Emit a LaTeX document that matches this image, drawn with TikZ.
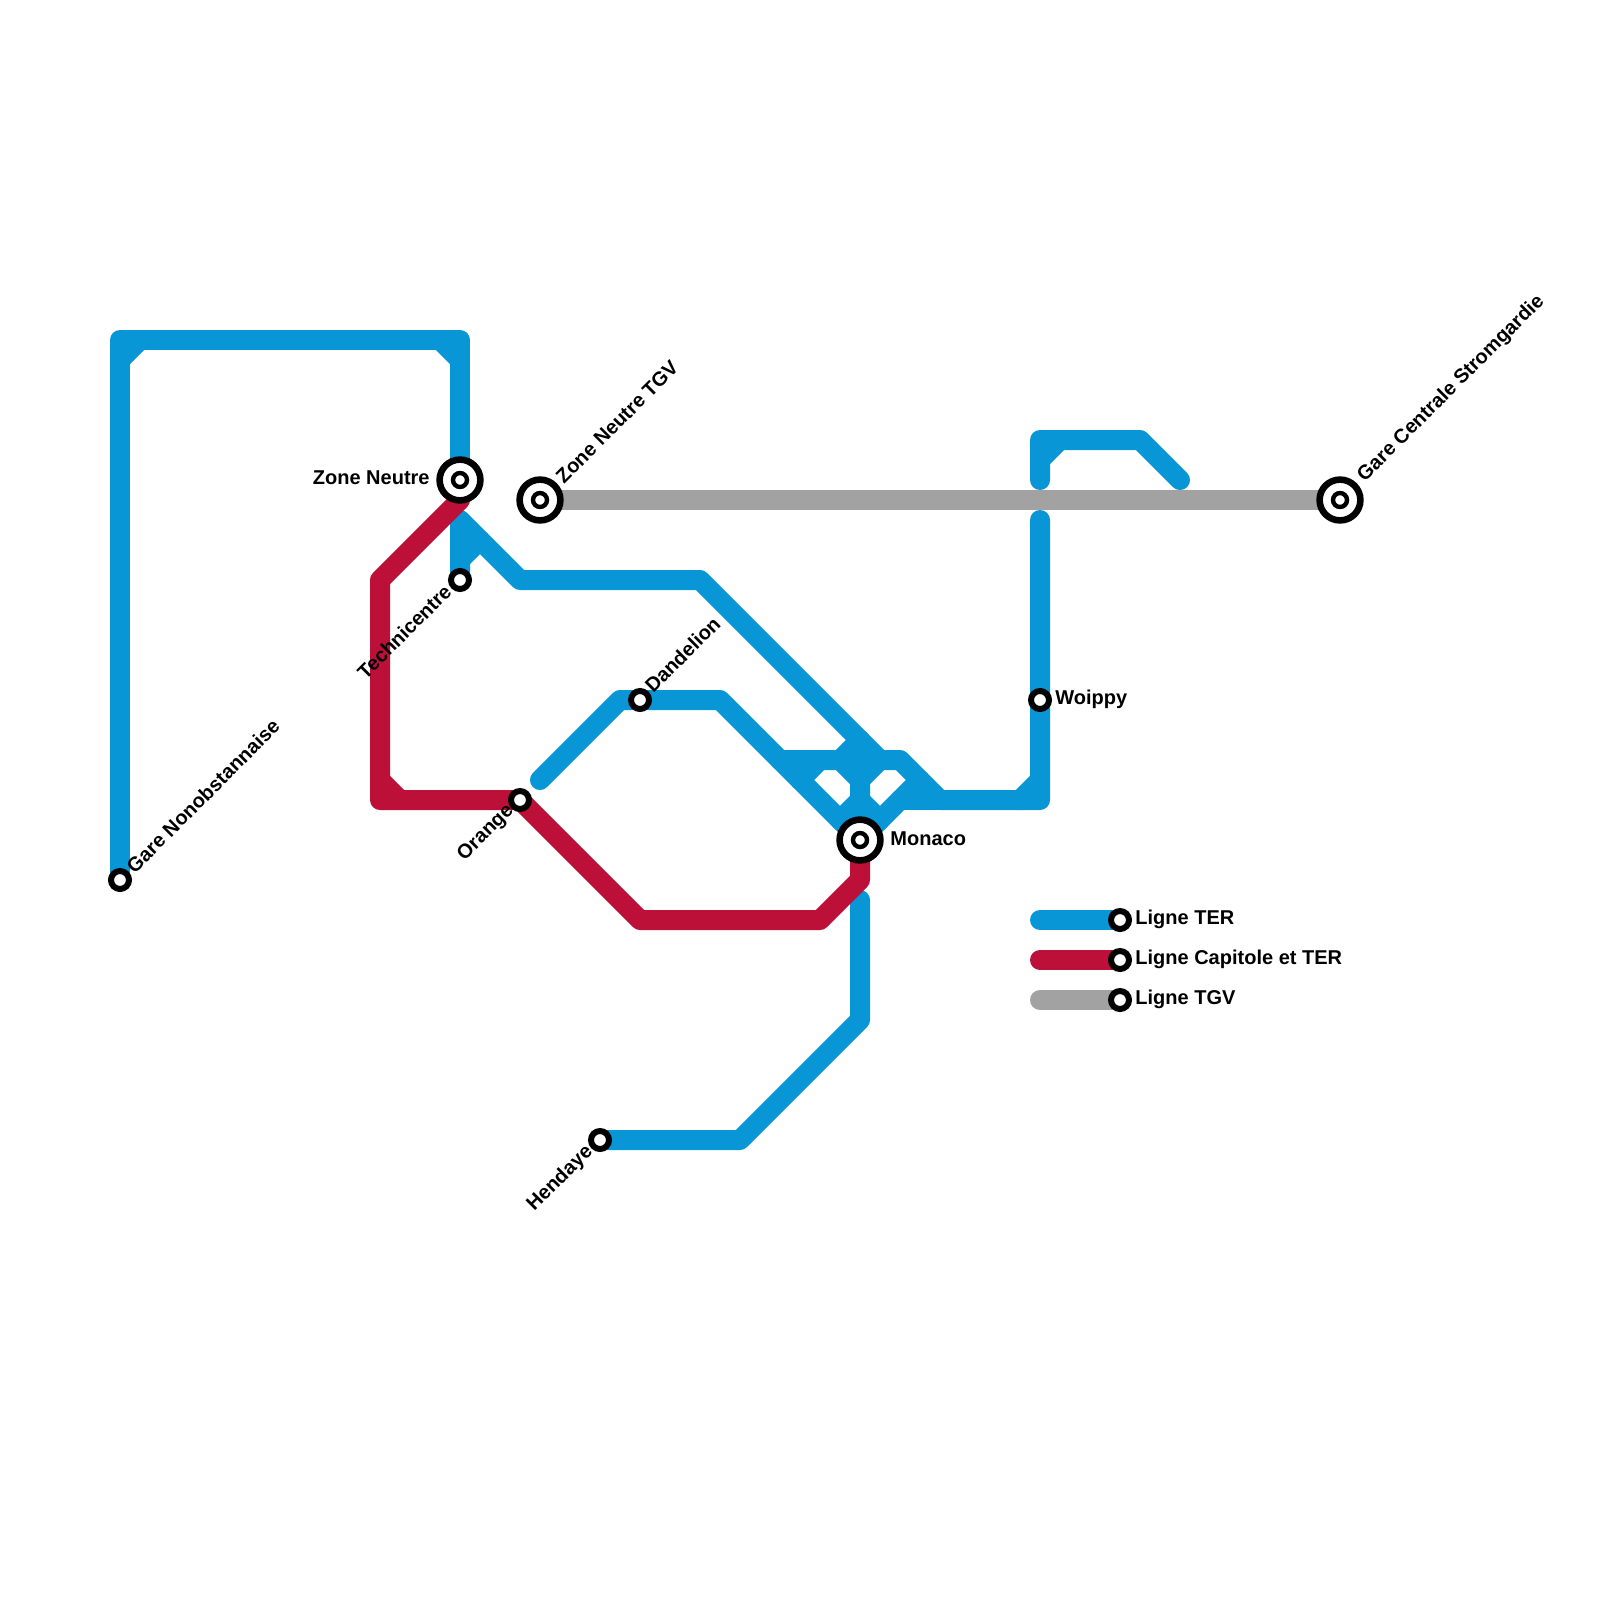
\documentclass[tikz,border=0pt]{standalone}
\usepackage{fontspec}
\setmainfont{Liberation Sans}
\usetikzlibrary{backgrounds}
\definecolor{ter}{HTML}{0896D7}
\definecolor{capitole}{HTML}{BD1038}
\definecolor{tgv}{HTML}{A2A2A2}
\tikzset{
	track/.style={line width=10pt, line cap=round, line join=round},
	stop/.style={draw=black, fill=white, circle, line width=3pt, minimum size=9pt, inner sep=0pt, outer sep=0pt},
	hub/.style={draw=black, fill=white, circle, line width=3.3pt, minimum size=20.4pt, inner sep=0pt, outer sep=0pt},
	hubcore/.style={draw=black, fill=white, circle, line width=2.2pt, minimum size=7pt, inner sep=0pt, outer sep=0pt},
	stationname/.style={font=\fontsize{10}{12}\selectfont\bfseries, inner sep=0pt, text=black},
}

\begin{document}
\begin{tikzpicture}[x=0.5pt, y=-0.5pt]
		\useasboundingbox (0, 0) rectangle (1600, 1600);
		\coordinate (nono_corner) at (120, 340);
		\coordinate (nono_corner_a) at (120, 360);
		\coordinate (nono_corner_b) at (140, 340);
		\coordinate (neutre_corner) at (460, 340);
		\coordinate (neutre_corner_a) at (440, 340);
		\coordinate (neutre_corner_b) at (460, 360);
		\coordinate (techni_top) at (460, 520);
		\coordinate (techni_a) at (460, 560);
		\coordinate (techni_b) at (480, 540);
		\coordinate (techni_c) at (520, 580);
		\coordinate (techni_d) at (700, 580);
		\coordinate (junction_n) at (860, 740);
		\coordinate (junction_a) at (840, 760);
		\coordinate (junction_c) at (860, 780);
		\coordinate (junction_d) at (880, 760);
		\coordinate (junction_e) at (860, 800);
		\coordinate (junction_f) at (840, 820);
		\coordinate (junction_g) at (880, 820);
		\coordinate (junction_h) at (800, 780);
		\coordinate (junction_i) at (820, 760);
		\coordinate (junction_j) at (920, 780);
		\coordinate (bar_w) at (780, 760);
		\coordinate (bar_e) at (900, 760);
		\coordinate (bar_f) at (940, 800);
		\coordinate (bar_g) at (900, 800);
		\coordinate (woippy_corner) at (1040, 800);
		\coordinate (woippy_a) at (1020, 800);
		\coordinate (woippy_b) at (1040, 780);
		\coordinate (woippy_top) at (1040, 520);
		\coordinate (upper_a) at (1040, 480);
		\coordinate (upper_b) at (1040, 440);
		\coordinate (upper_c) at (1140, 440);
		\coordinate (upper_d) at (1180, 480);
		\coordinate (upper_e) at (1040, 460);
		\coordinate (upper_f) at (1060, 440);
		\coordinate (dande_a) at (540, 780);
		\coordinate (dande_b) at (620, 700);
		\coordinate (dande_c) at (720, 700);
		\coordinate (south_a) at (860, 900);
		\coordinate (south_b) at (860, 1020);
		\coordinate (south_c) at (740, 1140);
		\coordinate (red_a) at (460, 500);
		\coordinate (red_b) at (380, 580);
		\coordinate (red_c) at (380, 800);
		\coordinate (red_d) at (380, 780);
		\coordinate (red_e) at (400, 800);
		\coordinate (red_f) at (640, 920);
		\coordinate (red_g) at (820, 920);
		\coordinate (red_h) at (860, 880);
		\coordinate (key_ter) at (1040, 920);
		\coordinate (key_capitole) at (1040, 960);
		\coordinate (key_tgv) at (1040, 1000);
		\node[stop] (nonobstannaise) at (120, 880) {};
		\node[hub] (neutre) at (460, 480) {};
		\node[hubcore] (neutre_core) at (460, 480) {};
		\node[hub] (neutre_tgv) at (540, 500) {};
		\node[hubcore] (neutre_tgv_core) at (540, 500) {};
		\node[hub] (stromgardie) at (1340, 500) {};
		\node[hubcore] (stromgardie_core) at (1340, 500) {};
		\node[hub] (monaco) at (860, 840) {};
		\node[hubcore] (monaco_core) at (860, 840) {};
		\node[stop] (technicentre) at (460, 580) {};
		\node[stop] (orange) at (520, 800) {};
		\node[stop] (dandelion) at (640, 700) {};
		\node[stop] (woippy) at (1040, 700) {};
		\node[stop] (hendaye) at (600, 1140) {};
		\node[stop] (ter_stop) at (1120, 920) {};
		\node[stop] (capitole_stop) at (1120, 960) {};
		\node[stop] (tgv_stop) at (1120, 1000) {};
		\begin{scope}[on background layer]
			\draw[track, ter] (nonobstannaise.center) -- (nono_corner) -- (neutre_corner) -- (neutre.center);
			\draw[track, ter] (nono_corner_a) -- (nono_corner_b);
			\draw[track, ter] (neutre_corner_a) -- (neutre_corner_b);
			\draw[track, ter] (technicentre.center) -- (techni_top) -- (techni_c) -- (techni_d) -- (junction_n) -- (junction_d);
			\draw[track, ter] (techni_a) -- (techni_b);
			\draw[track, ter] (dande_a) -- (dande_b) -- (dande_c) -- (monaco.center);
			\draw[track, ter] (bar_w) -- (bar_e) -- (bar_f) -- (woippy_corner) -- (woippy_top);
			\draw[track, ter] (woippy_a) -- (woippy_b);
			\draw[track, ter] (junction_n) -- (monaco.center) -- (junction_j);
			\draw[track, ter] (bar_g) -- (bar_f);
			\draw[track, ter] (junction_a) -- (junction_n);
			\draw[track, ter] (junction_a) -- (junction_c) -- (junction_d);
			\draw[track, ter] (junction_e) -- (junction_f);
			\draw[track, ter] (junction_e) -- (junction_g);
			\draw[track, ter] (junction_h) -- (junction_i);
			\draw[track, ter] (upper_a) -- (upper_b) -- (upper_c) -- (upper_d);
			\draw[track, ter] (upper_e) -- (upper_f);
			\draw[track, ter] (south_a) -- (south_b) -- (south_c) -- (hendaye.center);
			\draw[track, tgv] (neutre_tgv.center) -- (stromgardie.center);
			\draw[track, capitole] (neutre.center) -- (red_a) -- (red_b) -- (red_c) -- (orange.center) -- (red_f) -- (red_g) -- (red_h) -- (monaco.center);
			\draw[track, capitole] (red_d) -- (red_e);
			\draw[track, ter] (key_ter) -- (ter_stop.center);
			\draw[track, capitole] (key_capitole) -- (capitole_stop.center);
			\draw[track, tgv] (key_tgv) -- (tgv_stop.center);
		\end{scope}
		\node[stationname, anchor=west, rotate=45] (nonobstannaise_label) at (129.5, 869.5) {Gare Nonobstannaise};
		\node[stationname, anchor=east] (neutre_label) at (430, 478) {Zone Neutre};
		\node[stationname, anchor=west, rotate=45] (neutre_tgv_label) at (559, 480) {Zone Neutre TGV};
		\node[stationname, anchor=west, rotate=45] (stromgardie_label) at (1361, 479) {Gare Centrale Stromgardie};
		\node[stationname, anchor=west] (monaco_label) at (890, 838.5) {Monaco};
		\node[stationname, anchor=east, rotate=45] (technicentre_label) at (448, 588) {Technicentre};
		\node[stationname, anchor=east, rotate=45] (orange_label) at (511, 808) {Orange};
		\node[stationname, anchor=west, rotate=45] (dandelion_label) at (648, 689) {Dandelion};
		\node[stationname, anchor=west] (woippy_label) at (1055, 699.5) {Woippy};
		\node[stationname, anchor=east, rotate=45] (hendaye_label) at (590, 1149) {Hendaye};
		\node[stationname, anchor=west] (ter_label) at (1135, 919.5) {Ligne TER};
		\node[stationname, anchor=west] (capitole_label) at (1135, 959.5) {Ligne Capitole et TER};
		\node[stationname, anchor=west] (tgv_label) at (1135, 999.5) {Ligne TGV};
	\end{tikzpicture}
\end{document}
